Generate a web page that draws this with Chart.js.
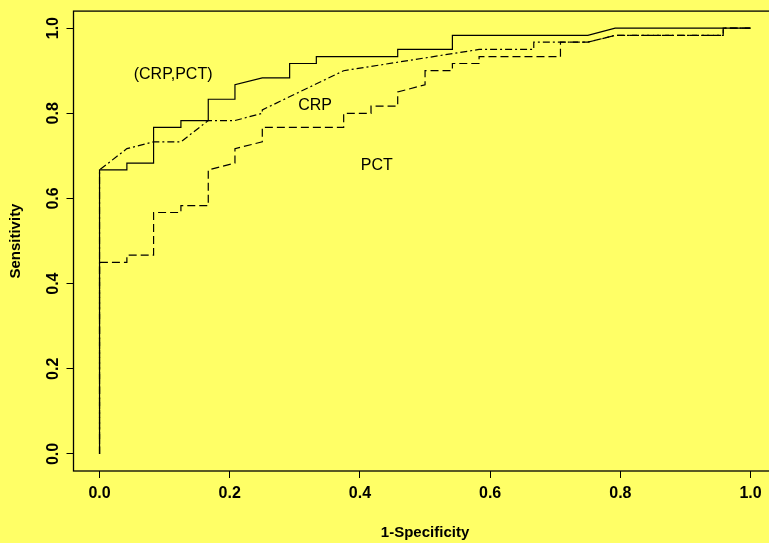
<!DOCTYPE html>
<html>
<head>
<meta charset="utf-8">
<script src="https://cdn.jsdelivr.net/npm/chart.js@4/dist/chart.umd.min.js"></script>
<style>
  html, body { margin: 0; padding: 0; background: #ffff66; overflow: hidden; }
  #wrap { width: 780px; height: 543px; position: relative; }
</style>
</head>
<body>
<div id="wrap"><canvas id="roc"></canvas></div>
<script>
// ROC curves: (CRP,PCT) combined, CRP alone, PCT alone
const combX = [0, 0, 0.042, 0.042, 0.083, 0.083, 0.125, 0.125, 0.167, 0.167, 0.208, 0.208, 0.25, 0.292, 0.292, 0.333, 0.333, 0.458, 0.458, 0.542, 0.542, 0.75, 0.792, 1];
const combY = [0, 0.667, 0.667, 0.683, 0.683, 0.767, 0.767, 0.783, 0.783, 0.833, 0.833, 0.867, 0.883, 0.883, 0.917, 0.917, 0.933, 0.933, 0.95, 0.95, 0.983, 0.983, 1, 1];

const crpX = [0, 0, 0.042, 0.083, 0.125, 0.167, 0.208, 0.25, 0.25, 0.375, 0.583, 0.667, 0.667, 0.75, 0.792, 0.958, 0.958, 1];
const crpY = [0, 0.667, 0.717, 0.733, 0.733, 0.783, 0.783, 0.8, 0.808, 0.9, 0.95, 0.95, 0.967, 0.967, 0.983, 0.983, 1, 1];

const pctX = [0, 0, 0.042, 0.042, 0.083, 0.083, 0.125, 0.125, 0.167, 0.167, 0.208, 0.208, 0.25, 0.25, 0.375, 0.375, 0.417, 0.417, 0.458, 0.458, 0.5, 0.5, 0.542, 0.542, 0.583, 0.583, 0.708, 0.708, 0.75, 0.792, 0.958, 0.958, 1];
const pctY = [0, 0.45, 0.45, 0.467, 0.467, 0.567, 0.567, 0.583, 0.583, 0.667, 0.683, 0.717, 0.733, 0.767, 0.767, 0.8, 0.8, 0.817, 0.817, 0.85, 0.867, 0.9, 0.9, 0.917, 0.917, 0.933, 0.933, 0.967, 0.967, 0.983, 0.983, 1, 1];

// ticks
const xTicks = [0, 0.2, 0.4, 0.6, 0.8, 1.0];
const yTicks = [0, 0.2, 0.4, 0.6, 0.8, 1.0];

// curve labels (in data units)
const labelText = ['(CRP,PCT)', 'CRP', 'PCT'];
const labelX = [0.113, 0.331, 0.426];
const labelY = [0.89, 0.818, 0.678];

const pts = (xs, ys) => xs.map((x, i) => ({ x: x, y: ys[i] }));
const FONT = "'Liberation Sans', Arial, sans-serif";

// frame around the plot + text labels on the curves
const framePlugin = {
  id: 'frame',
  afterDraw(chart) {
    const { ctx, chartArea: a, scales } = chart;
    ctx.save();
    ctx.strokeStyle = '#000';
    ctx.lineWidth = 1.3;
    ctx.strokeRect(a.left, a.top, a.right - a.left, a.bottom - a.top);
    ctx.fillStyle = '#000';
    ctx.font = '16px ' + FONT;
    ctx.textAlign = 'center';
    ctx.textBaseline = 'middle';
    labelText.forEach((t, i) => {
      ctx.fillText(t, scales.x.getPixelForValue(labelX[i]), scales.y.getPixelForValue(labelY[i]));
    });
    ctx.restore();
  }
};

const line = (label, xs, ys, dash) => ({
  label: label,
  data: pts(xs, ys),
  showLine: true,
  borderColor: '#000',
  borderWidth: 1.2,
  borderDash: dash,
  pointRadius: 0,
  tension: 0,
  fill: false
});

new Chart(document.getElementById('roc'), {
  type: 'scatter',
  data: {
    datasets: [
      line('(CRP,PCT)', combX, combY, []),
      line('CRP', crpX, crpY, [7, 3, 2, 3]),
      line('PCT', pctX, pctY, [8, 4])
    ]
  },
  options: {
    responsive: true,
    maintainAspectRatio: false,
    animation: false,
    layout: { padding: { top: 9, right: 3.4, left: 0, bottom: 0 } },
    plugins: { legend: { display: false }, tooltip: { enabled: false } },
    scales: {
      x: {
        type: 'linear',
        min: -0.04,
        max: 1.04,
        afterFit: s => { s.height = 72; },
        afterBuildTicks: s => { s.ticks = xTicks.map(v => ({ value: v })); },
        grid: { drawOnChartArea: false, drawTicks: true, tickLength: 7, color: '#000', lineWidth: 1 },
        border: { display: false },
        ticks: {
          padding: 6,
          color: '#000',
          font: { family: FONT, size: 16, weight: 'bold' },
          maxRotation: 0,
          callback: v => v.toFixed(1)
        },
        title: { display: true, text: '1-Specificity', color: '#000', font: { family: FONT, size: 15, weight: 'bold' }, padding: { top: 0, bottom: 1 } }
      },
      y: {
        type: 'linear',
        min: -0.04,
        max: 1.04,
        afterFit: s => { s.width = 73.5; },
        afterBuildTicks: s => { s.ticks = yTicks.map(v => ({ value: v })); },
        grid: { drawOnChartArea: false, drawTicks: true, tickLength: 7, color: '#000', lineWidth: 1 },
        border: { display: false },
        ticks: {
          padding: 1.5,
          color: '#000',
          crossAlign: 'center',
          minRotation: 90,
          maxRotation: 90,
          font: { family: FONT, size: 16, weight: 'bold' },
          callback: v => v.toFixed(1)
        },
        title: { display: true, text: 'Sensitivity', color: '#000', font: { family: FONT, size: 15, weight: 'bold' }, padding: { top: 7, bottom: 0 } }
      }
    }
  },
  plugins: [framePlugin]
});
</script>
</body>
</html>
